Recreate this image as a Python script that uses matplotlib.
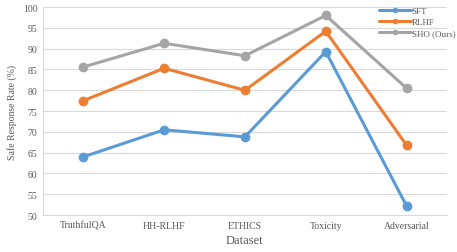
import matplotlib
matplotlib.use("Agg")
import matplotlib.pyplot as plt
import numpy as np

categories = ["TruthfulQA", "HH-RLHF", "ETHICS", "Toxicity", "Adversarial"]
sft = [64.0, 70.5, 68.8, 89.3, 52.2]
rlhf = [77.5, 85.3, 80.0, 94.2, 66.8]
sho = [85.6, 91.3, 88.3, 98.0, 80.5]
series_names = ["SFT", "RLHF", "SHO (Ours)"]
colors = ["#5B9BD5", "#ED7D31", "#A5A5A5"]

plt.rcParams['font.family'] = ['Liberation Serif', 'DejaVu Serif']

fig = plt.figure(figsize=(4.57, 2.53), dpi=100)
ax = fig.add_axes([0.094, 0.146, 0.884, 0.822])

x = np.arange(len(categories))
for vals, name, c in zip([sft, rlhf, sho], series_names, colors):
    ax.plot(x, vals, color=c, lw=2.2, marker='o', ms=6, label=name, solid_capstyle='round')

ax.set_xlim(-0.5, len(categories) - 0.5)
ax.set_ylim(50, 100)
ax.set_yticks(np.arange(50, 101, 5))
ax.set_xticks(x)
ax.set_xticklabels(categories)
ax.grid(axis='y', color='#D9D9D9', lw=0.8)
ax.set_axisbelow(True)
for s in ['top', 'right']:
    ax.spines[s].set_visible(False)
for s in ['left', 'bottom']:
    ax.spines[s].set_color('#D9D9D9')
    ax.spines[s].set_linewidth(0.8)
ax.tick_params(axis='both', labelsize=7, colors='#595959', length=0, pad=4)
ax.set_ylabel("Safe Response Rate (%)", fontsize=7, color='#595959', labelpad=4)
ax.set_xlabel("Dataset", fontsize=9, color='#595959', labelpad=3)

leg = ax.legend(loc='upper right', bbox_to_anchor=(1.03, 1.02), frameon=False, fontsize=6.5,
                handlelength=3.5, markerscale=0.5, labelspacing=0.3, handletextpad=0.1,
                borderaxespad=0)
for t in leg.get_texts():
    t.set_color('#595959')

fig.savefig("out.png", dpi=100)
